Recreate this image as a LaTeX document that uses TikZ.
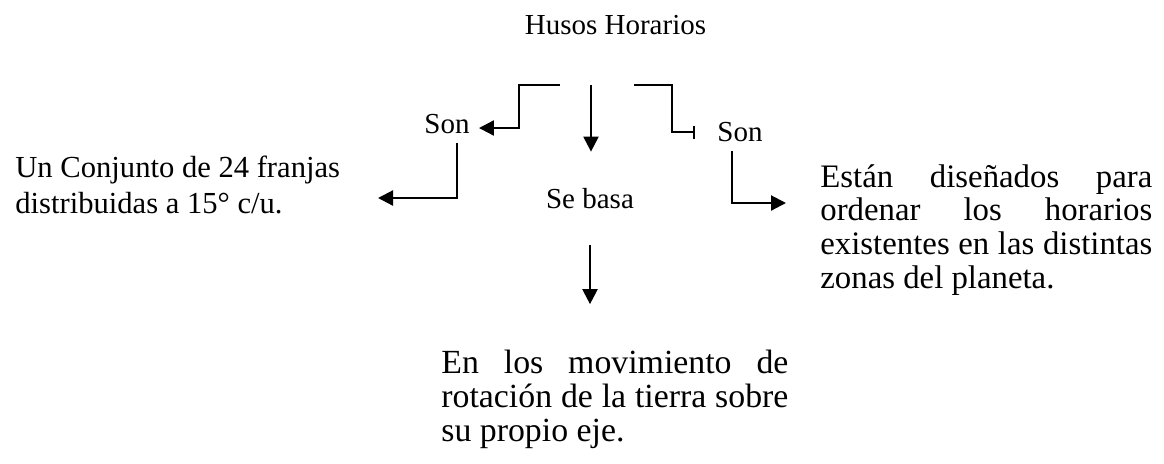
\documentclass[tikz,border=0pt]{standalone}
\usepackage{fontspec}
\setmainfont{Liberation Serif}
\usetikzlibrary{arrows.meta}

\begin{document}
\begin{tikzpicture}[x=0.5pt, y=-0.5pt,
    flecha/.style={line width=1.1pt, -{Triangle[length=7.5pt,width=7.5pt]}},
    tope/.style={line width=1.1pt, -{Bar[width=6.5pt]}},
    etiq/.style={font=\fontsize{14.5}{17}\selectfont, inner sep=0pt, inner xsep=4.5pt, text height=10pt, text depth=5pt},
    parrafo/.style={inner sep=0pt, anchor=base west, align=justify}]
    \useasboundingbox (0,0) rectangle (1164,463);

    \node[etiq] (husos) at (615.5,29) {Husos Horarios};
    \node[etiq] (sonL) at (447,128) {Son};
    \node[etiq] (sonR) at (740,136) {Son};
    \node[etiq] (sebasa) at (590,203) {Se basa};

    \node[parrafo, text width=170pt, align=flush left, font=\fontsize{15.3}{18}\selectfont] (izq) at (15,177) {Un Conjunto de 24 franjas\\distribuidas a 15° c/u.};
    \node[parrafo, text width=166pt, font=\fontsize{16.4}{16.85}\selectfont] (der) at (820,187) {Están diseñados para\linebreak ordenar los horarios\linebreak existentes en las distintas\linebreak zonas del planeta.};
    \node[parrafo, text width=173.5pt, font=\fontsize{16.9}{17}\selectfont] (abajo) at (441,373) {En los movimiento de\linebreak rotación de la tierra sobre\linebreak su propio eje.};

    \coordinate (a1) at (560,85);
    \coordinate (c1) at (591,85);
    \coordinate (b1) at (634,85);
    \coordinate (pBar) at (695,132);
    \coordinate (pIzq) at (378,198);
    \coordinate (pDer) at (786,203);

    \draw[flecha] (a1) -- ++(-41,0) |- (sonL);
    \draw[flecha, shorten >=18pt] (c1) -- (c1 |- sebasa.north);
    \draw[tope] (b1) -- ++(38,0) |- (pBar);
    \draw[flecha] ([xshift=5pt]sonL.south) |- (pIzq);
    \draw[flecha] ([xshift=-4pt]sonR.south) |- (pDer);
    \draw[flecha, shorten <=13.5pt, shorten >=22.5pt] (sebasa.south) -- (sebasa.south |- abajo.north);
\end{tikzpicture}
\end{document}
